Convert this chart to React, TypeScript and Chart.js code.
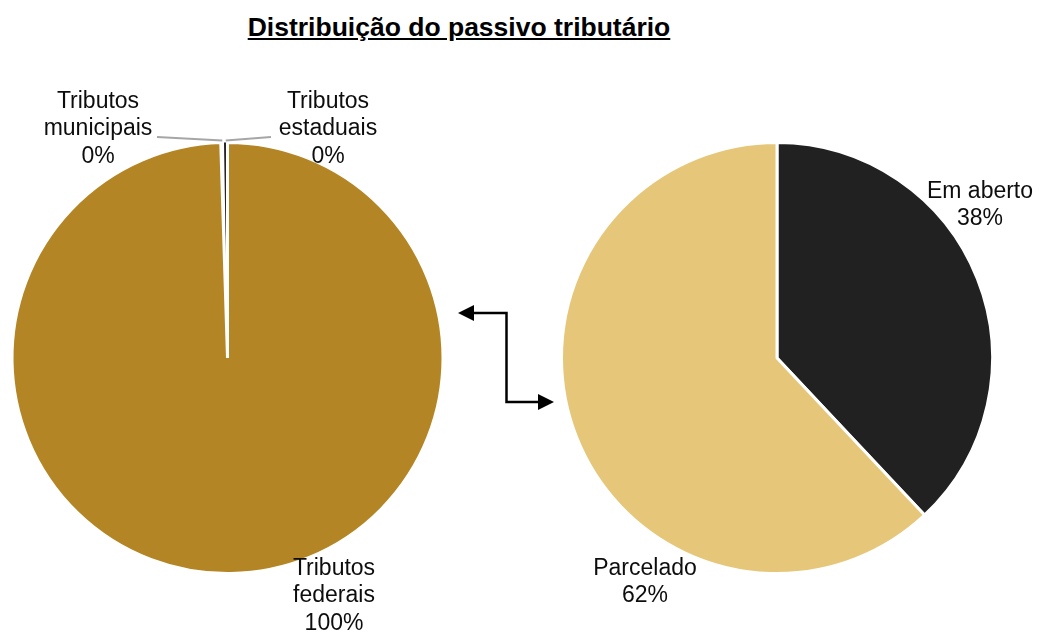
import React, { useEffect, useRef } from "react";
import { Chart, registerables } from "chart.js";

Chart.register(...registerables);

// ---- Data ----
const leftCategories = ["Tributos municipais", "Tributos estaduais", "Tributos federais"];
const leftValues = [0.24, 0.26, 99.5];
const leftColors = ["#FFFFFF", "#262626", "#B48524"];

const rightCategories = ["Em aberto", "Parcelado"];
const rightValues = [38, 62];
const rightColors = ["#212121", "#E6C678"];

// ---- Label layout (offsets from pie centre) ----
const leftLabelLayout = [
  { dx: -129.5, dy: -229, wrap: true, leader: { dx: 59, dy: 8 } },
  { dx: 100.5, dy: -229, wrap: true, leader: { dx: -57, dy: 8 } },
  { dx: 106.5, dy: 238, wrap: true, leader: null },
];
const rightLabelLayout = [
  { dx: 203, dy: -153, wrap: false, leader: null },
  { dx: -132, dy: 224, wrap: false, leader: null },
];

const FONT = '"Liberation Sans", Arial, sans-serif';
const W = 1042;
const H = 632;

function pct(values: number[], i: number) {
  const total = values.reduce((a, b) => a + b, 0);
  return Math.round((values[i] / total) * 100) + "%";
}

function makeLabelPlugin(categories: string[], values: number[], layout: any[]) {
  return {
    id: "sliceLabels",
    afterDatasetsDraw(chart: any) {
      const meta = chart.getDatasetMeta(0);
      const ctx = chart.ctx;
      const lh = 27.5;
      meta.data.forEach((arc: any, i: number) => {
        const p = arc.getProps(["x", "y", "startAngle", "endAngle", "outerRadius"], true);
        const lay = layout[i];
        const cx = p.x + lay.dx;
        const cy = p.y + lay.dy;
        const lines = (lay.wrap ? categories[i].split(" ") : [categories[i]]).concat([pct(values, i)]);
        ctx.save();
        if (lay.leader) {
          const mid = (p.startAngle + p.endAngle) / 2;
          const ax = p.x + Math.cos(mid) * (p.outerRadius + 2);
          const ay = p.y + Math.sin(mid) * (p.outerRadius + 2);
          ctx.strokeStyle = "#A6A6A6";
          ctx.lineWidth = 2;
          ctx.beginPath();
          ctx.moveTo(cx + lay.leader.dx, cy + lay.leader.dy);
          ctx.lineTo(ax, ay);
          ctx.stroke();
        }
        ctx.fillStyle = "#0D0D0D";
        ctx.font = `23px ${FONT}`;
        ctx.textAlign = "center";
        ctx.textBaseline = "middle";
        lines.forEach((t: string, j: number) => {
          ctx.fillText(t, cx, cy + (j - (lines.length - 1) / 2) * lh);
        });
        ctx.restore();
      });
    },
  };
}

function PieCanvas(props: {
  categories: string[];
  values: number[];
  colors: string[];
  borders: number[];
  layout: any[];
  padding: { left: number; right: number; top: number; bottom: number };
  rotation: number;
}) {
  const ref = useRef<HTMLCanvasElement | null>(null);
  useEffect(() => {
    if (!ref.current) return;
    const chart = new Chart(ref.current, {
      type: "pie",
      data: {
        labels: props.categories,
        datasets: [
          {
            data: props.values,
            backgroundColor: props.colors,
            borderColor: "#FFFFFF",
            borderWidth: props.borders,
          },
        ],
      },
      options: {
        responsive: false,
        animation: false,
        rotation: props.rotation,
        layout: { padding: props.padding },
        plugins: {
          legend: { display: false },
          tooltip: { enabled: false },
          title: { display: false },
        },
      },
      plugins: [makeLabelPlugin(props.categories, props.values, props.layout)],
    } as any);
    return () => chart.destroy();
  }, []);
  return (
    <canvas
      ref={ref}
      width={W}
      height={H}
      style={{ position: "absolute", left: 0, top: 0, width: W, height: H }}
    />
  );
}

export default function App() {
  const leftTotal = leftValues.reduce((a, b) => a + b, 0);
  const leftRotation = -((leftValues[0] + leftValues[1]) / leftTotal) * 360;
  return (
    <div
      style={{
        position: "absolute",
        left: 0,
        top: 0,
        width: W,
        height: H,
        background: "#FFFFFF",
        overflow: "hidden",
        fontFamily: FONT,
      }}
    >
      <div
        style={{
          position: "absolute",
          left: 159,
          top: 12,
          width: 600,
          textAlign: "center",
          fontWeight: "bold",
          fontSize: 26.5,
          lineHeight: "30px",
          textDecoration: "underline",
          color: "#000",
        }}
      >
        Distribuição do passivo tributário
      </div>
      <PieCanvas
        categories={leftCategories}
        values={leftValues}
        colors={leftColors}
        borders={[0, 0, 3]}
        layout={leftLabelLayout}
        padding={{ left: 10.5, right: 597.5, top: 141, bottom: 57 }}
        rotation={leftRotation}
      />
      <PieCanvas
        categories={rightCategories}
        values={rightValues}
        colors={rightColors}
        borders={[3, 3]}
        layout={rightLabelLayout}
        padding={{ left: 560, right: 48, top: 141, bottom: 57 }}
        rotation={0}
      />
      <svg
        width={W}
        height={H}
        style={{ position: "absolute", left: 0, top: 0, pointerEvents: "none" }}
      >
        <polyline
          points="472,313 506.5,313 506.5,402 540,402"
          fill="none"
          stroke="#000"
          strokeWidth={2.5}
        />
        <polygon points="458,313 474,305 474,321" fill="#000" />
        <polygon points="554,402 538,394 538,410" fill="#000" />
      </svg>
    </div>
  );
}
